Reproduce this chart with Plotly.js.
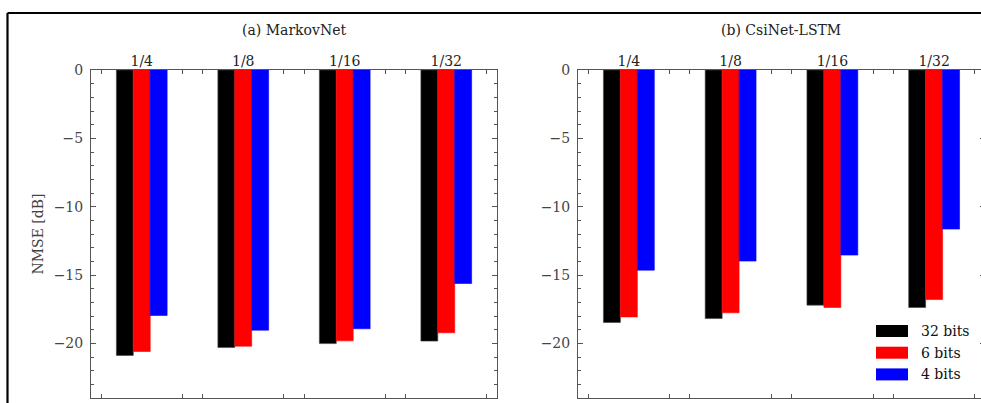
<!DOCTYPE html>
<html>
<head>
<meta charset="utf-8">
<script src="https://cdn.plot.ly/plotly-3.0.1.min.js"></script>
<style>
html, body { margin: 0; padding: 0; overflow: hidden; background: #fff; }
#chart { width: 990px; height: 403px; }
</style>
</head>
<body>
<div id="chart"></div>
<script>
// ---- data ----
const groups = ['1/4', '1/8', '1/16', '1/32'];
const seriesNames = ['32 bits', '6 bits', '4 bits'];
const seriesColors = ['#000000', '#ff0000', '#0000ff'];
const panelTitles = ['(a) MarkovNet', '(b) CsiNet-LSTM'];
const markov32 = [-20.87, -20.29, -20.00, -19.82];
const markov6  = [-20.58, -20.19, -19.80, -19.21];
const markov4  = [-17.95, -19.02, -18.92, -15.61];
const csiLstm32 = [-18.46, -18.17, -17.19, -17.36];
const csiLstm6  = [-18.05, -17.75, -17.36, -16.78];
const csiLstm4  = [-14.63, -13.97, -13.53, -11.63];
const yTickVals = [-20, -15, -10, -5, 0];
const yTickText = ['\u221220', '\u221215', '\u221210', '\u22125', '0'];
const xMinorTicks = [-0.4, 0.4, 0.6, 1.4, 1.6, 2.4, 2.6, 3.4];
const yAxisTitle = 'NMSE [dB]';

// ---- layout constants (pixels) ----
const W = 990, H = 403;
const px = v => v / W;
const py = v => (H - v) / H;
const FONT = "'DejaVu Serif', serif";
const AX = '#555555';

const panels = [
  [markov32, markov6, markov4],
  [csiLstm32, csiLstm6, csiLstm4]
];
const xIdx = groups.map((_, i) => i);

const traces = [];
panels.forEach((series, p) => {
  const xa = p === 0 ? 'x' : 'x2';
  const ya = p === 0 ? 'y' : 'y2';
  series.forEach((vals, s) => {
    traces.push({
      type: 'bar',
      x: xIdx,
      y: vals,
      name: seriesNames[s],
      marker: { color: seriesColors[s], line: { width: 0.6, color: s === 0 ? '#444' : seriesColors[s] } },
      xaxis: xa, yaxis: ya,
      showlegend: false,
      hoverinfo: 'x+y'
    });
  });
  // empty trace that carries the mirrored (bottom/right) frame axes
  traces.push({ type: 'scatter', x: [], y: [], xaxis: p === 0 ? 'x3' : 'x4', yaxis: p === 0 ? 'y3' : 'y4',
    showlegend: false, hoverinfo: 'skip' });
});

function xAxis(domain, anchor, side, overlay) {
  const a = {
    domain: domain, anchor: anchor, range: [-0.5, 3.5], side: side,
    tickmode: 'array', tickvals: xIdx, ticktext: groups,
    ticks: 'inside', ticklen: 0, showline: true, linecolor: AX, linewidth: 1,
    showgrid: false, zeroline: false, fixedrange: true,
    showticklabels: !overlay,
    ticklabelstandoff: -3,
    tickfont: { family: FONT, size: 14, color: '#222' },
    minor: { tickmode: 'array', tickvals: xMinorTicks, ticks: 'inside', ticklen: 4, tickcolor: AX, tickwidth: 1 },
    automargin: false
  };
  if (overlay) a.overlaying = overlay;
  return a;
}
function yAxis(domain, anchor, side, overlay) {
  const a = {
    domain: domain, anchor: anchor, range: [-24, 0], side: side,
    tickmode: 'array', tickvals: yTickVals, ticktext: yTickText,
    ticks: 'inside', ticklen: 5, tickcolor: AX, tickwidth: 1,
    showline: true, linecolor: AX, linewidth: 1,
    showgrid: false, zeroline: false, fixedrange: true,
    showticklabels: !overlay,
    tickfont: { family: FONT, size: 14, color: '#444' },
    ticklabelstandoff: 4,
    minor: { dtick: 1, tick0: 0, ticks: 'inside', ticklen: 3, tickcolor: AX, tickwidth: 1 },
    automargin: false
  };
  if (overlay) a.overlaying = overlay;
  return a;
}

const yDom = [py(398.3), py(70)];
const xDom1 = [px(91), px(497)];
const xDom2 = [px(578), px(985)];
const shapes = [
  { type: 'line', xref: 'paper', yref: 'paper', x0: px(7.5), x1: 1.05, y0: py(13), y1: py(13), line: { color: '#000', width: 2.2 } },
  { type: 'line', xref: 'paper', yref: 'paper', x0: px(7.5), x1: px(7.5), y0: -0.05, y1: py(13), line: { color: '#000', width: 2.2 } }
];
const annotations = [
  { text: panelTitles[0], xref: 'paper', yref: 'paper', x: px(294), y: py(30), xanchor: 'center', yanchor: 'middle', showarrow: false, font: { family: FONT, size: 14, color: '#222' } },
  { text: panelTitles[1], xref: 'paper', yref: 'paper', x: px(781), y: py(30), xanchor: 'center', yanchor: 'middle', showarrow: false, font: { family: FONT, size: 14, color: '#222' } },
  { text: yAxisTitle, xref: 'paper', yref: 'paper', x: px(37.5), y: py(234), xanchor: 'center', yanchor: 'middle', textangle: -90, showarrow: false, font: { family: FONT, size: 14, color: '#444' } }
];
// custom legend (wide swatches like the reference)
seriesNames.forEach((n, i) => {
  const cy = 331 + i * 21.7;
  shapes.push({ type: 'rect', xref: 'paper', yref: 'paper', x0: px(876), x1: px(908), y0: py(cy + 6), y1: py(cy - 6),
    fillcolor: seriesColors[i], line: { width: 0 } });
  annotations.push({ text: n, xref: 'paper', yref: 'paper', x: px(919), y: py(cy), xanchor: 'left', yanchor: 'middle',
    showarrow: false, font: { family: FONT, size: 14, color: '#111' } });
});

const layout = {
  width: W, height: H,
  margin: { l: 0, r: 0, t: 0, b: 0, pad: 0 },
  paper_bgcolor: '#fff', plot_bgcolor: '#fff',
  barmode: 'group', bargap: 0.5, bargroupgap: 0,
  showlegend: false,
  font: { family: FONT },
  xaxis: xAxis(xDom1, 'y', 'top'),
  yaxis: yAxis(yDom, 'x', 'left'),
  xaxis2: xAxis(xDom2, 'y2', 'top'),
  yaxis2: yAxis(yDom, 'x2', 'left'),
  xaxis3: xAxis(xDom1, 'y', 'bottom', 'x'),
  yaxis3: yAxis(yDom, 'x', 'right', 'y'),
  xaxis4: xAxis(xDom2, 'y2', 'bottom', 'x2'),
  yaxis4: yAxis(yDom, 'x2', 'right', 'y2'),
  shapes: shapes,
  annotations: annotations
};

Plotly.newPlot('chart', traces, layout, { displayModeBar: false, staticPlot: true });
</script>
</body>
</html>
